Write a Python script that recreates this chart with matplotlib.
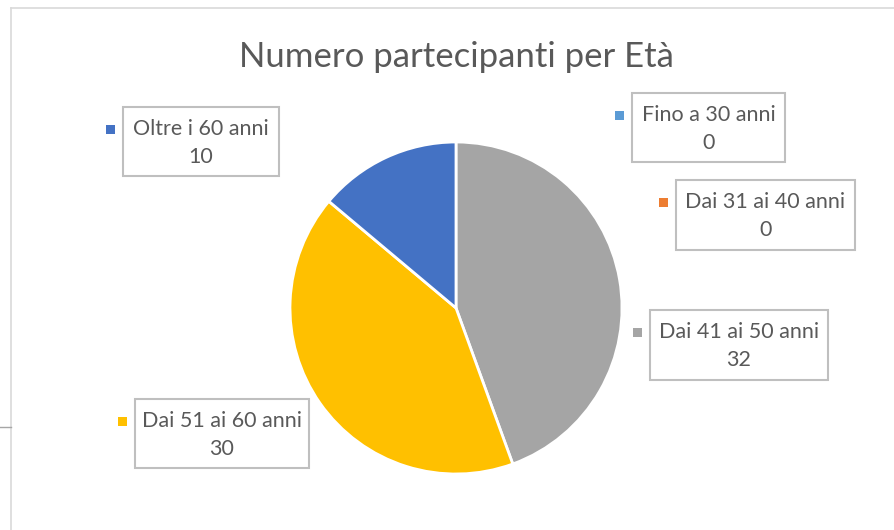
import matplotlib.pyplot as plt
from matplotlib.patches import Rectangle

# data
categorie = ["Fino a 30 anni", "Dai 31 ai 40 anni", "Dai 41 ai 50 anni",
             "Dai 51 ai 60 anni", "Oltre i 60 anni"]
partecipanti = [0, 0, 32, 30, 10]
colori = ["#5B9BD5", "#ED7D31", "#A5A5A5", "#FFC000", "#4472C4"]

# label box layout in pixels (left, top, width, height), top-left origin
box_px = [(632, 93, 153, 69), (676, 180, 179, 70), (650, 310, 178, 70),
          (135, 399, 174, 69), (123, 107, 156, 69)]

W, H = 895, 530
plt.rcParams['font.family'] = ['Lato', 'DejaVu Sans']

fig = plt.figure(figsize=(W / 100, H / 100), dpi=100)
ax = fig.add_axes([0, 0, 1, 1])
ax.set_xlim(0, W)
ax.set_ylim(0, H)
ax.set_aspect('equal')
ax.axis('off')

# chart frame
ax.plot([11, W], [H - 8, H - 8], color="#D9D9D9", lw=1.2)
ax.plot([11, 11], [0, H - 8], color="#D9D9D9", lw=1.2)
ax.plot([0, 11], [H - 427, H - 427], color="#A6A6A6", lw=1)

ax.pie(partecipanti, colors=colori, center=(456, H - 308), radius=166,
       startangle=90, counterclock=False,
       wedgeprops=dict(edgecolor="white", linewidth=2))
ax.set_xlim(0, W)
ax.set_ylim(0, H)

ax.text(456, H - 57, "Numero partecipanti per Età", ha="center", va="center",
        fontsize=25, color="#595959")

for cat, val, col, (x, y, w, h) in zip(categorie, partecipanti, colori, box_px):
    ax.add_patch(Rectangle((x, H - y - h), w, h, facecolor="white",
                           edgecolor="#BFBFBF", lw=1.5))
    ax.add_patch(Rectangle((x - 17, H - y - 27), 9, 9, facecolor=col,
                           edgecolor="none"))
    ax.text(x + w / 2, H - y - 22, cat, ha="center", va="center",
            fontsize=15.5, color="#595959")
    ax.text(x + w / 2, H - y - 50, str(val), ha="center", va="center",
            fontsize=15.5, color="#595959")

fig.savefig("out.png", dpi=100)
